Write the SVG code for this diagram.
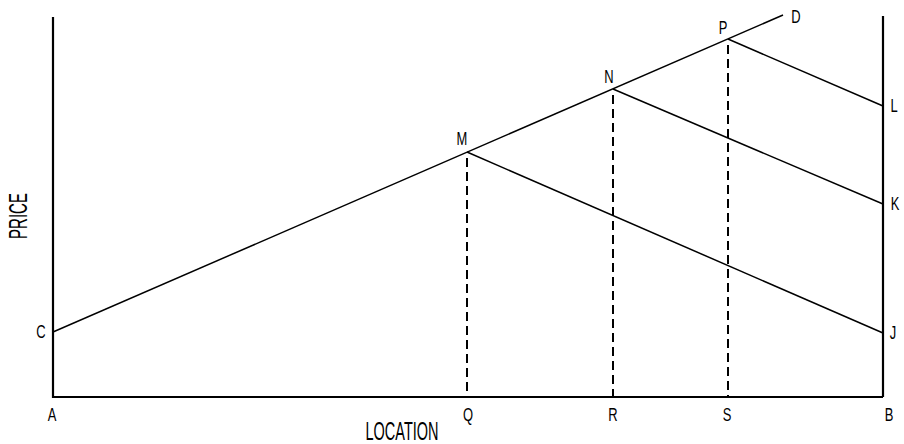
<svg xmlns="http://www.w3.org/2000/svg" width="904" height="444" viewBox="0 0 904 444">
<style>
.ax{stroke:#000;stroke-width:2.2;fill:none}
.ln{stroke:#000;stroke-width:1.5;fill:none}
.ds{stroke:#000;stroke-width:2;fill:none;stroke-dasharray:9 5}
.lb{font-family:"Liberation Sans",Arial,sans-serif;font-size:18px;fill:#000;text-anchor:middle}
.big{font-family:"Liberation Sans",Arial,sans-serif;font-size:25px;fill:#000;text-anchor:middle}
</style>
<rect width="904" height="444" fill="#fff"/>
<g id="axes">
<polyline class="ax" points="53,17 53,397 883,397"/>
<line class="ax" x1="883" y1="16" x2="883" y2="397"/>
</g>
<g id="connectors">
<line class="ln" x1="53" y1="332" x2="783" y2="15"/>
<line class="ln" x1="467" y1="152" x2="883" y2="333"/>
<line class="ln" x1="613" y1="89" x2="883" y2="204"/>
<line class="ln" x1="728" y1="39" x2="883" y2="106"/>
<line class="ds" x1="467" y1="158" x2="467" y2="397"/>
<line class="ds" x1="613" y1="95" x2="613" y2="397"/>
<line class="ds" x1="728" y1="45" x2="728" y2="397"/>
</g>
<g id="labels">
<text class="lb" transform="translate(41 338) scale(0.72 1)">C</text>
<text class="lb" transform="translate(52 421) scale(0.72 1)">A</text>
<text class="lb" transform="translate(468 421) scale(0.72 1)">Q</text>
<text class="lb" transform="translate(613 421) scale(0.72 1)">R</text>
<text class="lb" transform="translate(727 421) scale(0.72 1)">S</text>
<text class="lb" transform="translate(889 421) scale(0.72 1)">B</text>
<text class="lb" transform="translate(462 145) scale(0.72 1)">M</text>
<text class="lb" transform="translate(609 83) scale(0.72 1)">N</text>
<text class="lb" transform="translate(723 34) scale(0.72 1)">P</text>
<text class="lb" transform="translate(796 23) scale(0.72 1)">D</text>
<text class="lb" transform="translate(894 112) scale(0.72 1)">L</text>
<text class="lb" transform="translate(895 210) scale(0.72 1)">K</text>
<text class="lb" transform="translate(893 339) scale(0.72 1)">J</text>
<text class="big" transform="translate(402 440) scale(0.58 1)">LOCATION</text>
<text class="big" transform="translate(27 216) rotate(-90) scale(0.6 1)">PRICE</text>
</g>
</svg>
